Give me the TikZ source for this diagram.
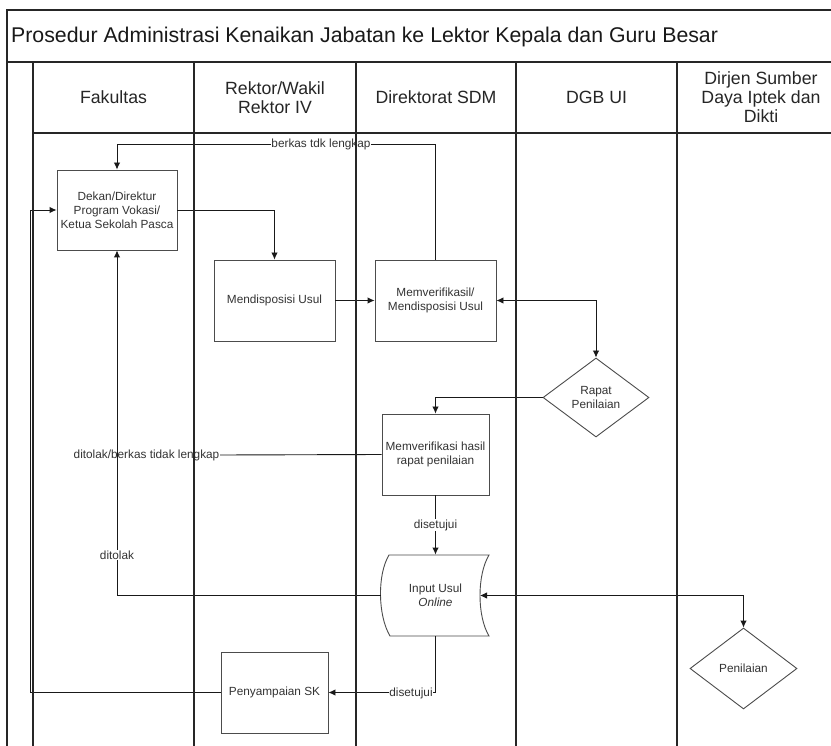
\documentclass[tikz,border=0pt]{standalone}
\usepackage{fontspec}
\setmainfont{Liberation Sans}
\usetikzlibrary{arrows.meta,shapes.geometric}
\begin{document}
\begin{tikzpicture}[x=1pt,y=-1pt,
  frame/.style={draw=black!85, line width=1.4pt},
  lane/.style={draw=black!85, line width=1.2pt},
  box/.style={draw=black!70, line width=0.9pt, fill=white, align=center, inner sep=0pt, text=black!80, font=\fontsize{11.8}{14}\selectfont},
  dia/.style={box, diamond},
  conn/.style={draw=black!90, line width=0.9pt},
  arr/.style={conn, -{Latex[length=7pt,width=6.5pt]}},
  darr/.style={conn, {Latex[length=7pt,width=6.5pt]}-{Latex[length=7pt,width=6.5pt]}},
  lbl/.style={fill=white, inner sep=0.6pt, text=black!80, font=\fontsize{11.8}{14}\selectfont},
  hdr/.style={align=center, text=black!85, font=\fontsize{17.7}{19}\selectfont, inner sep=0pt},
]
\useasboundingbox (0,0) rectangle (831,746);
\clip (0,0) rectangle (831,746);
\fill[white] (0,0) rectangle (831,746);

% title and headers
\node[anchor=base west, text=black!90, font=\fontsize{21.3}{23}\selectfont, inner sep=0pt] (title) at (11,43) {Prosedur Administrasi Kenaikan Jabatan ke Lektor Kepala dan Guru Besar};
\node[hdr] (h1) at (113.5,97.5) {Fakultas};
\node[hdr] (h2) at (275,97.5) {Rektor/Wakil\\Rektor IV};
\node[hdr] (h3) at (436,97.5) {Direktorat SDM};
\node[hdr] (h4) at (596.5,97.5) {DGB UI};
\node[hdr] (h5) at (761,97) {Dirjen Sumber\\Daya Iptek dan\\Dikti};

% process nodes
\node[box, minimum width=120pt, minimum height=80pt] (dekan) at (117,210) {Dekan/Direktur\\Program Vokasi/\\Ketua Sekolah Pasca};
\node[box, minimum width=121pt, minimum height=81pt] (m1) at (274.5,300.5) {Mendisposisi Usul};
\node[box, minimum width=121pt, minimum height=81pt] (m2) at (435.5,300.5) {Memverifikasil/\\Mendisposisi Usul};
\node[dia, minimum width=106pt, minimum height=79pt] (rapat) at (596,397.5) {Rapat\\Penilaian};
\node[box, minimum width=107pt, minimum height=81pt] (m3) at (435.5,454.5) {Memverifikasi hasil\\rapat penilaian};
\draw[draw=black!70, line width=0.9pt, fill=white] (389,555) -- (489,555) .. controls (477,575) and (477,616) .. (489,636) -- (390,636) .. controls (378,616) and (377,575) .. (389,555) -- cycle;
\node[box, draw=none, fill=none, minimum width=100pt, minimum height=81pt] (inp) at (435.5,595.5) {Input Usul\\\textit{Online}};
\coordinate (inpL) at (381,595.5);
\coordinate (inpR) at (480,595.5);
\node[dia, minimum width=107pt, minimum height=81pt] (pen) at (743.5,668.5) {Penilaian};
\node[box, minimum width=107pt, minimum height=81pt] (sk) at (274.5,692.5) {Penyampaian SK};

% connectors
\coordinate (k1) at (117,144);
\draw[arr] (m2.north) |- (k1) -- (dekan.north);
\node[lbl] (l1) at (321,144) {berkas tdk lengkap};
\draw[arr] (dekan.east) -| (m1.north);
\draw[arr] (m1.east) -- (m2.west);
\draw[darr] (m2.east) -| (rapat.north);
\draw[arr] (rapat.west) -| (m3.north);
\node[lbl] (l2) at (146.5,455) {ditolak/berkas tidak lengkap};
\draw[conn] (m3.west) -- (l2.east);
\draw[arr] (m3.south) -- (inp.north);
\node[lbl] (l3) at (435.5,525) {disetujui};
\draw[arr] (inpL) -| (dekan.south);
\node[lbl] (l4) at (117,555) {ditolak};
\draw[darr] (inpR) -| (pen.north);
\draw[arr] (inp.south) |- (sk.east);
\node[lbl] (l5) at (411,693) {disetujui};
\coordinate (k4) at (30,210);
\draw[arr] (sk.west) -| (k4) -- (dekan.west);

% pool frame and lanes
\draw[frame] (7,760) -- (7,10) -- (850,10);
\draw[frame] (7,62) -- (850,62);
\draw[frame] (845,10) -- (845,760);
\draw[lane] (33,133) -- (850,133);
\foreach \xx in {33,194,356,516,677} {
  \draw[lane] (\xx,62) -- (\xx,760);
}
\end{tikzpicture}
\end{document}
